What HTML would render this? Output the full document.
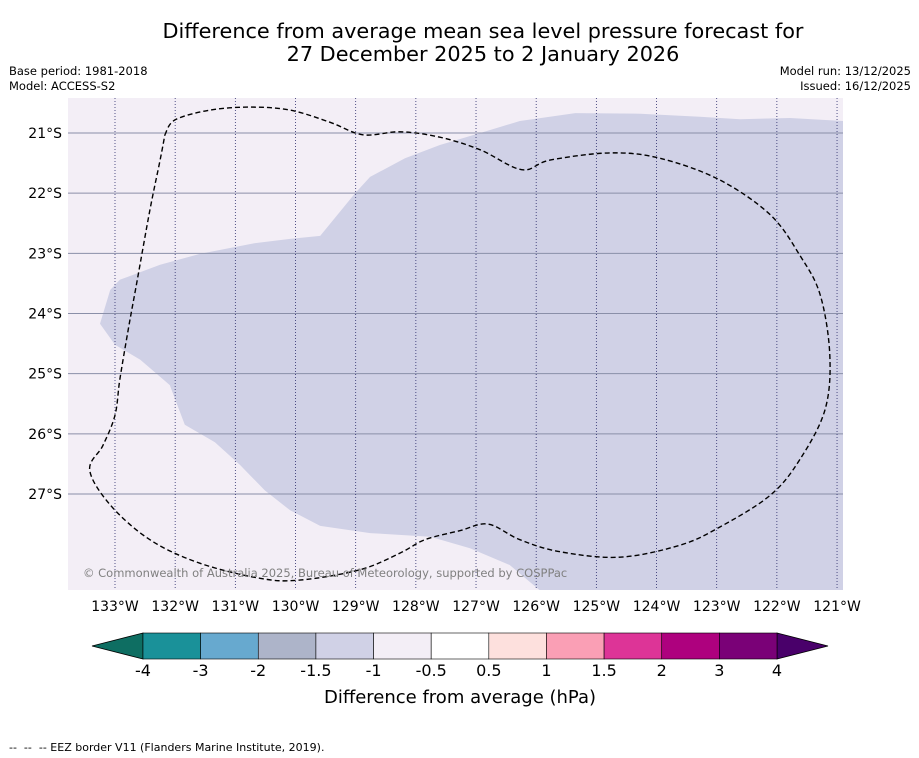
<!DOCTYPE html>
<html><head><meta charset="utf-8"><style>
body{margin:0;background:#fff;font-family:"DejaVu Sans","Liberation Sans",sans-serif}
#wrap{position:relative;width:919px;height:758px;overflow:hidden}
</style></head><body>
<div id="wrap">
<svg id="svg" width="919" height="758" xmlns="http://www.w3.org/2000/svg" font-family="DejaVu Sans, Liberation Sans, sans-serif">
<text x="483" y="38" font-size="20.8" text-anchor="middle">Difference from average mean sea level pressure forecast for</text>
<text x="483" y="61" font-size="20.8" text-anchor="middle">27 December 2025 to 2 January 2026</text>
<text x="9" y="75" font-size="11.5">Base period: 1981-2018</text>
<text x="9" y="90" font-size="11.5">Model: ACCESS-S2</text>
<text x="911" y="75" font-size="11.5" text-anchor="end">Model run: 13/12/2025</text>
<text x="911" y="90" font-size="11.5" text-anchor="end">Issued: 16/12/2025</text>
<g id="map"></g>
<g id="cbar"></g>
<text x="460" y="703" font-size="18" text-anchor="middle">Difference from average (hPa)</text>
<text x="9" y="751" font-size="11" xml:space="preserve">--  --  -- EEZ border V11 (Flanders Marine Institute, 2019).</text>
</svg>
</div>
<script>
const lonTicks=[133,132,131,130,129,128,127,126,125,124,123,122,121];
const latTicks=[21,22,23,24,25,26,27];
const regionLon=[120.9,121.78,122.61,123.28,124.27,125.35,126.27,126.93,127.6,128.18,128.76,129.01,129.59,130.09,130.67,131.59,132.25,132.92,133.08,133.25,133.0,132.58,132.09,131.84,131.34,130.92,130.51,130.09,129.59,128.76,127.76,127.1,126.44,125.94,120.9];
const regionLat=[20.8,20.75,20.77,20.73,20.68,20.67,20.8,21.0,21.2,21.42,21.73,22.0,22.71,22.76,22.83,23.01,23.19,23.44,23.61,24.17,24.52,24.77,25.19,25.85,26.14,26.52,26.94,27.27,27.53,27.65,27.71,27.9,28.18,28.6,28.6];
const eezLon=[132.17,132.0,131.42,130.76,130.09,129.43,128.88,128.26,127.6,126.93,126.24,125.77,124.77,123.94,122.95,122.11,121.62,121.28,121.12,121.2,121.62,122.11,122.95,123.61,124.61,125.6,126.27,126.8,127.27,127.85,128.26,128.93,129.93,130.59,131.59,132.42,133.08,133.42,133.2,133.0,132.92,132.78,132.63,132.42,132.25,132.17];
const eezLat=[21.03,20.78,20.62,20.57,20.62,20.82,21.03,20.98,21.07,21.28,21.61,21.45,21.33,21.42,21.78,22.36,23.03,23.69,24.69,25.6,26.43,27.02,27.55,27.85,28.05,27.96,27.76,27.5,27.61,27.76,27.98,28.26,28.43,28.4,28.15,27.76,27.18,26.6,26.19,25.69,25.1,24.27,23.44,22.28,21.45,21.03];
const cbLevels=["-4","-3","-2","-1.5","-1","-0.5","0.5","1","1.5","2","3","4"];
const cbColors=["#1a9199","#67a9cf","#adb4c9","#d0d1e6","#f3eef6","#ffffff","#fde0dd","#fa9fb5","#dd3497","#ae017e","#7a0177"];

const NS="http://www.w3.org/2000/svg";
const PX=60.17, X0=68, X1=843, Y0=98, Y1=590;
const xs=lon=>115+(133-lon)*PX;
const ys=lat=>133+(lat-21)*PX;
function mk(tag,attrs,parent){const e=document.createElementNS(NS,tag);for(const k in attrs)e.setAttribute(k,attrs[k]);parent.appendChild(e);return e;}
function smooth(pts){
 let d='M'+pts[0][0].toFixed(1)+','+pts[0][1].toFixed(1);
 for(let i=0;i<pts.length-1;i++){
  const p0=pts[Math.max(i-1,0)],p1=pts[i],p2=pts[i+1],p3=pts[Math.min(i+2,pts.length-1)];
  const c1=[p1[0]+(p2[0]-p0[0])/6,p1[1]+(p2[1]-p0[1])/6];
  const c2=[p2[0]-(p3[0]-p1[0])/6,p2[1]-(p3[1]-p1[1])/6];
  d+=` C${c1[0].toFixed(1)},${c1[1].toFixed(1)} ${c2[0].toFixed(1)},${c2[1].toFixed(1)} ${p2[0].toFixed(1)},${p2[1].toFixed(1)}`;
 }
 return d;
}
const map=document.getElementById('map');
let el=mk('rect',{x:X0,y:Y0,width:X1-X0,height:Y1-Y0,fill:'#f3eef6'},map);


const clip=mk('clipPath',{id:'mc'},map);mk('rect',{x:X0,y:Y0,width:X1-X0,height:Y1-Y0},clip);
const g=mk('g',{'clip-path':'url(#mc)'},map);
el=mk('polygon',{points:regionLon.map((l,i)=>xs(l).toFixed(1)+','+ys(regionLat[i]).toFixed(1)).join(' '),fill:'#d0d1e6'},g);


latTicks.forEach(t=>{const y=ys(t);
 el=mk('line',{x1:X0,x2:X1,y1:y,y2:y,stroke:'#8a8fa8','stroke-width':1},g);
 
 
 el=mk('text',{x:62,y:y+5,'font-size':14,'text-anchor':'end'},map);el.textContent=t+'°S';
 
 
});
lonTicks.forEach(t=>{const x=xs(t);
 el=mk('line',{x1:x,x2:x,y1:Y0,y2:Y1,stroke:'#2a2a6a','stroke-width':0.8,'stroke-dasharray':'1,2'},g);
 
 
 el=mk('text',{x:x,y:611,'font-size':14,'text-anchor':'middle'},map);el.textContent=t+'°W';
 
 
});
el=mk('path',{d:smooth(eezLon.map((l,i)=>[xs(l),ys(eezLat[i])])),fill:'none',stroke:'#000','stroke-width':1.4,'stroke-dasharray':'5,3'},g);


el=mk('text',{x:83,y:577,'font-size':11.5,fill:'#808080'},map);el.textContent='© Commonwealth of Australia 2025, Bureau of Meteorology, supported by COSPPac';



const cb=document.getElementById('cbar');
const CB0=143, CBW=(777-143)/(cbColors.length), CY=633, CH=26;
el=mk('polygon',{points:`92,${CY+CH/2} ${CB0},${CY} ${CB0},${CY+CH}`,fill:'#0e6e62',stroke:'#000','stroke-width':0.8},cb);


el=mk('polygon',{points:`828,${CY+CH/2} 777,${CY} 777,${CY+CH}`,fill:'#49006a',stroke:'#000','stroke-width':0.8},cb);


cbColors.forEach((c,i)=>{
 el=mk('rect',{x:CB0+i*CBW,y:CY,width:CBW,height:CH,fill:c,stroke:'#000','stroke-width':0.6},cb);
 
 
});
cbLevels.forEach((l,i)=>{
 el=mk('text',{x:CB0+i*CBW,y:676,'font-size':16,'text-anchor':'middle'},cb);el.textContent=l;
 
 
});
</script>
</body></html>
